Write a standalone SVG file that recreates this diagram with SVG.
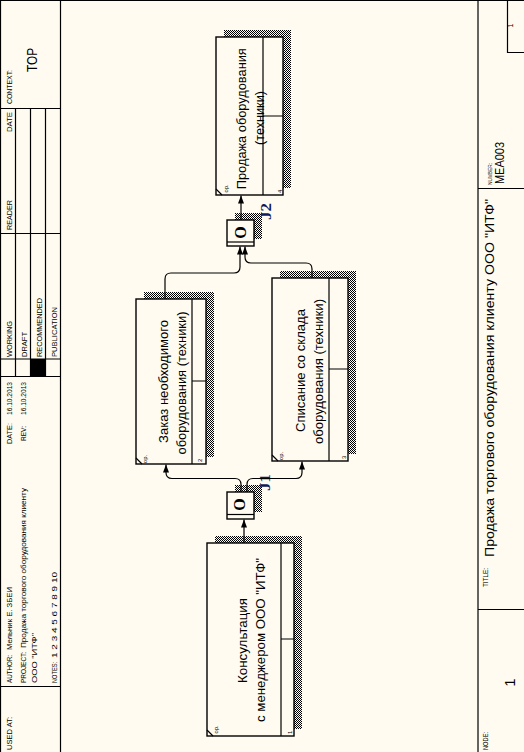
<svg xmlns="http://www.w3.org/2000/svg" width="524" height="752" viewBox="0 0 524 752">
<defs>
<pattern id="dots" x="0" y="0" width="4" height="4" patternUnits="userSpaceOnUse"><path d="M0 0h1v1H0z M2 0h1v1H2z M1 1h1v1H1z M3 1h1v1H3z M0 2h1v1H0z M2 2h1v1H2z M1 3h1v1H1z M3 3h1v1H3z" fill="#000" shape-rendering="crispEdges"/></pattern>
<marker id="ah" markerWidth="8" markerHeight="6" refX="8" refY="3" orient="auto" markerUnits="userSpaceOnUse"><path d="M0,0 L8,3 L0,6 z" fill="#000"/></marker>
</defs>
<style>
.fr{stroke:#000;stroke-width:1.2;fill:none}
.bx{fill:#FFFBF0;stroke:#000;stroke-width:1.4}
.sh{fill:url(#dots)}
.ln{stroke:#000;stroke-width:1.2;fill:none}
.cn{stroke:#000;stroke-width:1.2;fill:none;marker-end:url(#ah)}
.t{font-family:"Liberation Sans",Arial,sans-serif;fill:#000}
.h{font-size:7px}
.m{font-size:12.5px}
.n{font-size:6px}
.jo{font-family:"Liberation Serif","Times New Roman",serif;font-weight:bold;font-size:16px;fill:#000}
.jl{font-family:"Liberation Serif","Times New Roman",serif;font-weight:bold;font-size:14px;fill:#101a5a}
</style>
<rect width="524" height="752" fill="#FFFBF0"/>
<g id="frame">
<path class="fr" d="M0.5,0 V752 M0,0.5 H524 M60.5,0 V752 M478,0 V752"/>
<path class="fr" d="M0,108.5 H60.5 M0,233.5 H60.5 M0,359 H60.5 M0,376.5 H60.5 M0,686.5 H60.5 M15.5,108.5 V376.5 M30.5,108.5 V376.5 M45.5,108.5 V376.5"/>
<rect x="30.5" y="359" width="15" height="17.5" fill="#000"/>
<path class="fr" d="M478,188.5 H524 M478,609.5 H524 M507.5,0 V52.5 H524"/>
<g class="t h">
<text transform="translate(12.3,750) rotate(-90)" textLength="33" lengthAdjust="spacingAndGlyphs">USED AT:</text>
<text transform="translate(12.3,683) rotate(-90)" textLength="28" lengthAdjust="spacingAndGlyphs">AUTHOR:</text>
<text transform="translate(12.3,650) rotate(-90)" textLength="63" lengthAdjust="spacingAndGlyphs">Мельник Е. ЗБЕИ</text>
<text transform="translate(26,683) rotate(-90)" textLength="31" lengthAdjust="spacingAndGlyphs">PROJECT:</text>
<text transform="translate(26,648) rotate(-90)" textLength="160" lengthAdjust="spacingAndGlyphs">Продажа торгового оборудования клиенту</text>
<text transform="translate(37,683) rotate(-90)" textLength="50" lengthAdjust="spacingAndGlyphs">ООО "ИТФ"</text>
<text transform="translate(56.5,683) rotate(-90)" textLength="21" lengthAdjust="spacingAndGlyphs">NOTES:</text>
<text transform="translate(56.5,658) rotate(-90)" textLength="86" lengthAdjust="spacingAndGlyphs">1 2 3 4 5 6 7 8 9 10</text>
<text transform="translate(12.3,444) rotate(-90)" textLength="21" lengthAdjust="spacingAndGlyphs">DATE:</text>
<text transform="translate(12.3,415) rotate(-90)" textLength="33" lengthAdjust="spacingAndGlyphs">16.10.2013</text>
<text transform="translate(26,441) rotate(-90)" textLength="15" lengthAdjust="spacingAndGlyphs">REV:</text>
<text transform="translate(26,415) rotate(-90)" textLength="33" lengthAdjust="spacingAndGlyphs">16.10.2013</text>
<text transform="translate(12.3,357) rotate(-90)" textLength="36" lengthAdjust="spacingAndGlyphs">WORKING</text>
<text transform="translate(27,357) rotate(-90)" textLength="25" lengthAdjust="spacingAndGlyphs">DRAFT</text>
<text transform="translate(42,357) rotate(-90)" textLength="59" lengthAdjust="spacingAndGlyphs">RECOMMENDED</text>
<text transform="translate(57,357) rotate(-90)" textLength="50" lengthAdjust="spacingAndGlyphs">PUBLICATION</text>
<text transform="translate(12.3,230) rotate(-90)" textLength="30" lengthAdjust="spacingAndGlyphs">READER</text>
<text transform="translate(12.3,132) rotate(-90)" textLength="20" lengthAdjust="spacingAndGlyphs">DATE</text>
<text transform="translate(12.3,104) rotate(-90)" textLength="34" lengthAdjust="spacingAndGlyphs">CONTEXT:</text>
<text transform="translate(488,750) rotate(-90)" textLength="18" lengthAdjust="spacingAndGlyphs">NODE:</text>
<text transform="translate(488,587) rotate(-90)" textLength="19" lengthAdjust="spacingAndGlyphs">TITLE:</text>
<text transform="translate(492,185) rotate(-90)" textLength="22" lengthAdjust="spacingAndGlyphs" font-size="5.5">NUMBER:</text>
<text transform="translate(513,25.5) rotate(-90)" text-anchor="middle">1</text>
</g>
<text class="t" font-size="15" transform="translate(37,72) rotate(-90)" textLength="24" lengthAdjust="spacingAndGlyphs">TOP</text>
<text class="t" font-size="15" transform="translate(515,682.5) rotate(-90)" text-anchor="middle">1</text>
<text class="t" font-size="13" transform="translate(494,557) rotate(-90)" textLength="358" lengthAdjust="spacingAndGlyphs">Продажа торгового оборудования клиенту ООО "ИТФ"</text>
<text class="t" font-size="13" transform="translate(504,184) rotate(-90)" textLength="42" lengthAdjust="spacingAndGlyphs">MEA003</text>
</g>
<g id="uow1">
<rect class="sh" x="215" y="536" width="87" height="193"/>
<rect class="bx" x="207" y="543" width="87" height="193"/>
<path class="ln" d="M281,543 V736 M281,639 H294 M207,730 L213,736"/>
<text class="t m" transform="translate(246.7,640.5) rotate(-90)" text-anchor="middle" textLength="85" lengthAdjust="spacingAndGlyphs">Консультация</text>
<text class="t m" transform="translate(265,640) rotate(-90)" text-anchor="middle" textLength="164" lengthAdjust="spacingAndGlyphs">с менеджером ООО "ИТФ"</text>
<text class="t n" transform="translate(218,733.5) rotate(-90)" textLength="8" lengthAdjust="spacingAndGlyphs">ор.</text>
<text class="t n" transform="translate(292,734) rotate(-90)">1</text>
</g>
<g id="uow2">
<rect class="sh" x="144" y="292" width="70" height="165"/>
<rect class="bx" x="136" y="299" width="70" height="165"/>
<path class="ln" d="M192,299 V464 M192,381 H206 M136,458 L142,464"/>
<text class="t m" transform="translate(167.5,381.5) rotate(-90)" text-anchor="middle" textLength="123" lengthAdjust="spacingAndGlyphs">Заказ необходимого</text>
<text class="t m" transform="translate(186,383) rotate(-90)" text-anchor="middle" textLength="143" lengthAdjust="spacingAndGlyphs">оборудования (техники)</text>
<text class="t n" transform="translate(147,463) rotate(-90)" textLength="8" lengthAdjust="spacingAndGlyphs">ор.</text>
<text class="t n" transform="translate(202,462) rotate(-90)">2</text>
</g>
<g id="uow3">
<rect class="sh" x="280" y="271" width="76" height="183"/>
<rect class="bx" x="272" y="278" width="76" height="183"/>
<path class="ln" d="M329,278 V461 M329,369 H348 M272,455 L278,461"/>
<text class="t m" transform="translate(304.5,370.5) rotate(-90)" text-anchor="middle" textLength="123" lengthAdjust="spacingAndGlyphs">Списание со склада</text>
<text class="t m" transform="translate(323,371.5) rotate(-90)" text-anchor="middle" textLength="145" lengthAdjust="spacingAndGlyphs">оборудования (техники)</text>
<text class="t n" transform="translate(283,460) rotate(-90)" textLength="8" lengthAdjust="spacingAndGlyphs">ор.</text>
<text class="t n" transform="translate(346,459) rotate(-90)">3</text>
</g>
<g id="uow4">
<rect class="sh" x="224" y="30" width="67" height="158"/>
<rect class="bx" x="216" y="37" width="67" height="158"/>
<path class="ln" d="M263,37 V195 M263,116 H283 M216,189 L222,195"/>
<text class="t m" transform="translate(245.7,118.7) rotate(-90)" text-anchor="middle" textLength="141" lengthAdjust="spacingAndGlyphs">Продажа оборудования</text>
<text class="t m" transform="translate(264,118) rotate(-90)" text-anchor="middle" textLength="54" lengthAdjust="spacingAndGlyphs">(техники)</text>
<text class="t n" transform="translate(228,192.5) rotate(-90)" textLength="8" lengthAdjust="spacingAndGlyphs">ор.</text>
<text class="t n" transform="translate(282,193) rotate(-90)">4</text>
</g>
<g id="j1">
<rect class="sh" x="235" y="485" width="27" height="27"/>
<rect class="bx" x="227" y="492" width="27" height="27"/>
<path class="ln" d="M227,514.5 H254"/>
<text class="jo" transform="translate(245,504.5) rotate(-90)" text-anchor="middle">O</text>
<text class="jl" transform="translate(270,491) rotate(-90)" textLength="17" lengthAdjust="spacingAndGlyphs">J1</text>
</g>
<g id="j2">
<rect class="sh" x="235" y="213" width="27" height="26"/>
<rect class="bx" x="227" y="220" width="27" height="26"/>
<path class="ln" d="M227,242 H254"/>
<text class="jo" transform="translate(245.5,232.5) rotate(-90)" text-anchor="middle">O</text>
<text class="jl" transform="translate(271,220) rotate(-90)" textLength="17" lengthAdjust="spacingAndGlyphs">J2</text>
</g>
<g id="connectors">
<path class="cn" d="M244,543 V519.5"/>
<path class="cn" d="M241,492 V484.5 Q241,478.5 235,478.5 H172 Q166,478.5 166,472.5 V464.5"/>
<path class="cn" d="M247,492 V484.5 Q247,478.5 253,478.5 H296 Q302,478.5 302,472.5 V461.5"/>
<path class="cn" d="M165,299 V279 Q165,273 171,273 H234 Q240,273 240,267 V246.5"/>
<path class="cn" d="M312,278 V269 Q312,263 306,263 H251 Q245,263 245,257 V246.5"/>
<path class="cn" d="M241,220 V195.5"/>
</g>
</svg>
